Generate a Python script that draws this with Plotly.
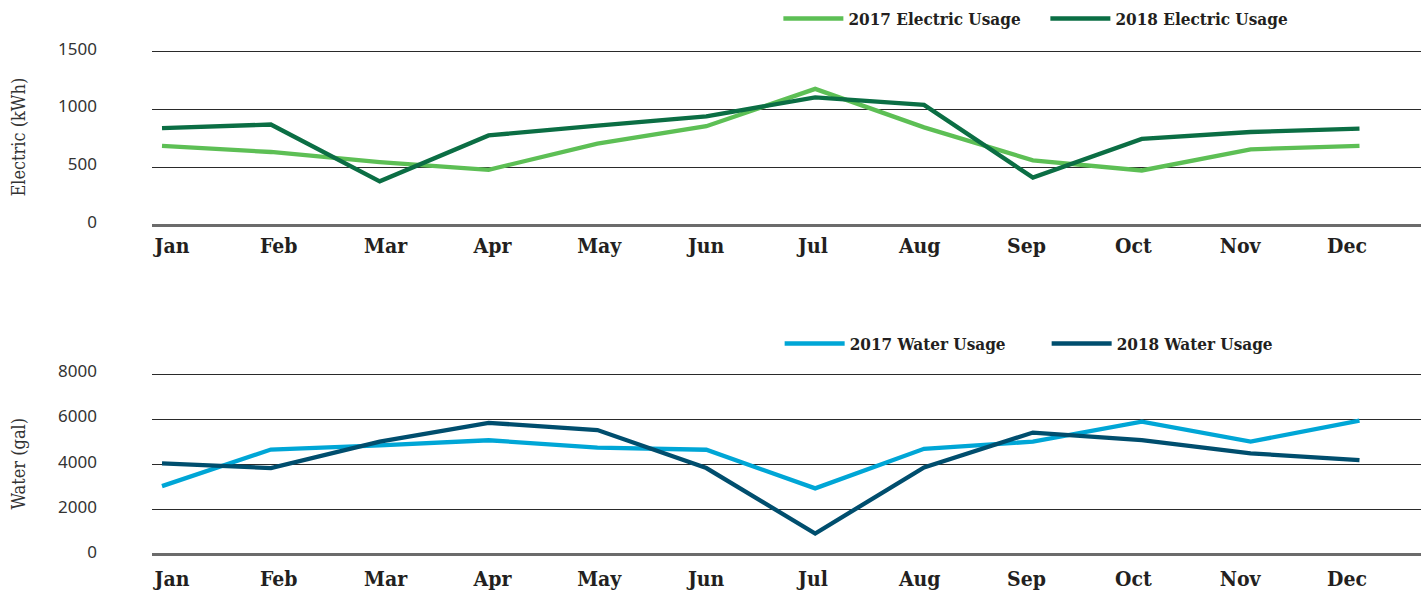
import plotly.graph_objects as go

months = ["Jan", "Feb", "Mar", "Apr", "May", "Jun", "Jul", "Aug", "Sep", "Oct", "Nov", "Dec"]
electric_2017 = [685, 632, 545, 478, 705, 855, 1178, 845, 560, 472, 655, 685]
electric_2018 = [838, 870, 378, 775, 860, 940, 1105, 1040, 410, 745, 805, 835]
water_2017 = [3050, 4670, 4850, 5080, 4750, 4660, 2950, 4700, 5020, 5900, 5020, 5950]
water_2018 = [4060, 3850, 5020, 5850, 5530, 3850, 950, 3880, 5420, 5090, 4500, 4200]

x_idx = list(range(len(months)))

C_E17 = "#5dbf55"
C_E18 = "#0b6e44"
C_W17 = "#00a6d6"
C_W18 = "#004e6e"
TXT = "#231f20"

SLAB = "DejaVu Serif Condensed, DejaVu Serif, serif"
SANS = "Noto Sans, Open Sans, sans-serif"

fig = go.Figure()
fig.add_trace(go.Scatter(x=x_idx, y=electric_2017, mode="lines", name="2017 Electric Usage",
                         line=dict(color=C_E17, width=4.3), xaxis="x", yaxis="y", legend="legend"))
fig.add_trace(go.Scatter(x=x_idx, y=electric_2018, mode="lines", name="2018 Electric Usage",
                         line=dict(color=C_E18, width=4.3), xaxis="x", yaxis="y", legend="legend"))
fig.add_trace(go.Scatter(x=x_idx, y=water_2017, mode="lines", name="2017 Water Usage",
                         line=dict(color=C_W17, width=4.3), xaxis="x2", yaxis="y2", legend="legend2"))
fig.add_trace(go.Scatter(x=x_idx, y=water_2018, mode="lines", name="2018 Water Usage",
                         line=dict(color=C_W18, width=4.3), xaxis="x2", yaxis="y2", legend="legend2"))
# empty helper traces so the month-label axes are rendered (they draw nothing)
for xa, ya in (("x3", "y"), ("x4", "y2")):
    fig.add_trace(go.Scatter(x=[x_idx[0], x_idx[-1]], y=[None, None], mode="lines",
                             xaxis=xa, yaxis=ya, showlegend=False, hoverinfo="skip"))

data_range = [-0.0919, 11.565]
label_range = [-0.1872, 11.693]

hidden_x = dict(range=data_range, showgrid=False, zeroline=False, showline=False,
                showticklabels=False, ticks="", fixedrange=True)
label_x = dict(range=label_range, tickmode="array", tickvals=x_idx, ticktext=months,
               showgrid=False, zeroline=False, showline=False, ticks="", visible=True,
               tickfont=dict(family=SLAB, size=21, color=TXT, weight="bold"),
               side="bottom")

common_y = dict(showgrid=True, gridcolor="#2a2a2a", gridwidth=1,
                zeroline=True, zerolinecolor="#6b6b6b", zerolinewidth=2.5,
                showline=False, ticks="", automargin=False,
                tickfont=dict(family=SANS, size=17, color="#333333"),
                ticklabelstandoff=54, ticklabelshift=-3,
                title_font=dict(family=SLAB, size=18, color="#333333"),
                title_standoff=27)

fig.update_layout(
    width=1424, height=592,
    margin=dict(l=152, r=3, t=0, b=0),
    paper_bgcolor="white", plot_bgcolor="white",
    xaxis=dict(hidden_x, domain=[0, 1], anchor="y"),
    xaxis2=dict(hidden_x, domain=[0, 1], anchor="y2"),
    xaxis3=dict(label_x, overlaying="x", anchor="y", ticklabelstandoff=6),
    xaxis4=dict(label_x, overlaying="x2", anchor="y2", ticklabelstandoff=9),
    yaxis=dict(common_y, domain=[0.6199, 0.9166], range=[0, 1520], tickvals=[0, 500, 1000, 1500],
               title_text="Electric (kWh)", anchor="x"),
    yaxis2=dict(common_y, domain=[0.0625, 0.3708], range=[0, 8080], tickvals=[0, 2000, 4000, 6000, 8000],
                title_text="Water (gal)", anchor="x2"),
    legend=dict(orientation="h", x=0.704, xanchor="center", y=0.968, yanchor="middle",
                itemwidth=60, entrywidth=192,
                font=dict(family=SLAB, size=17, color=TXT, weight="bold"), bgcolor="rgba(0,0,0,0)"),
    legend2=dict(orientation="h", x=0.705, xanchor="center", y=0.419, yanchor="middle",
                 itemwidth=60, entrywidth=192,
                 font=dict(family=SLAB, size=17, color=TXT, weight="bold"), bgcolor="rgba(0,0,0,0)"),
    showlegend=True,
)

fig.write_html("out.html", config={"displayModeBar": False},
               post_script="document.body.style.margin='0';document.body.style.overflow='hidden';")
